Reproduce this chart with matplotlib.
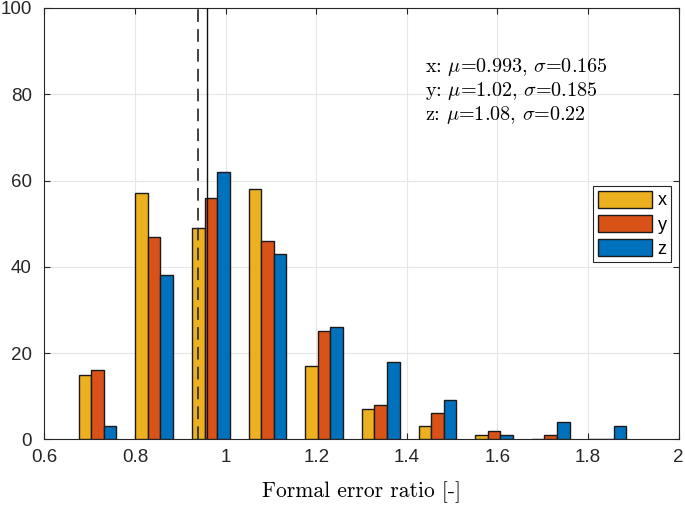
import numpy as np
import matplotlib
matplotlib.use('Agg')
import matplotlib.pyplot as plt

# histogram of formal error ratio, three components
binCenters = [0.7175, 0.8425, 0.9675, 1.0925, 1.2175, 1.3425, 1.4675, 1.5925, 1.7175, 1.8425]
countsX = [15, 57, 49, 58, 17, 7, 3, 1, 0, 0]
countsY = [16, 47, 56, 46, 25, 8, 6, 2, 1, 0]
countsZ = [3, 38, 62, 43, 26, 18, 9, 1, 4, 3]
labels = ['x', 'y', 'z']
statsText = ['x: $\\mu$=0.993, $\\sigma$=0.165',
             'y: $\\mu$=1.02, $\\sigma$=0.185',
             'z: $\\mu$=1.08, $\\sigma$=0.22']
dashedLine = 0.94
solidLine = 0.96

colors = ['#EDB120', '#D95319', '#0072BD']
axCol = '#262626'

plt.rcParams['font.family'] = ['Liberation Sans', 'DejaVu Sans']
plt.rcParams['mathtext.fontset'] = 'cm'

fig = plt.figure(figsize=(6.85, 5.08), dpi=100)
ax = fig.add_axes([0.0647, 0.1352, 0.9261, 0.8491])

spacing = 0.125
barW = spacing * (2.0 / 3.0) / 3.0
for i, (cnt, lab) in enumerate(zip([countsX, countsY, countsZ], labels)):
    xs = np.array(binCenters) + (i - 1) * barW
    ax.bar(xs, cnt, width=barW, color=colors[i], edgecolor='#1a1a1a',
           linewidth=1.0, label=lab, zorder=3)

ax.axvline(dashedLine, color='#333333', linestyle=(0, (7, 4)), linewidth=1.3, zorder=4)
ax.axvline(solidLine, color='#111111', linewidth=1.0, zorder=4)

ax.set_xlim(0.6, 2)
ax.set_ylim(0, 100)
ax.set_xticks([0.6, 0.8, 1, 1.2, 1.4, 1.6, 1.8, 2])
ax.set_xticklabels(['0.6', '0.8', '1', '1.2', '1.4', '1.6', '1.8', '2'])
ax.set_yticks([0, 20, 40, 60, 80, 100])
ax.grid(True, color='#e6e6e6', linewidth=0.8, zorder=0)
ax.set_axisbelow(True)
ax.tick_params(direction='in', top=True, right=True, length=4, width=0.8,
               colors=axCol, labelsize=13.5)
ax.tick_params(axis='x', pad=7)
ax.tick_params(axis='y', pad=9)
for s in ax.spines.values():
    s.set_color(axCol)
    s.set_linewidth(0.8)

ax.set_xlabel('Formal error ratio [-]', fontfamily='cmr10', fontsize=15.5,
              color='black', labelpad=11)

for k, t in enumerate(statsText):
    ax.text(1.44, 86.4 - 5.6 * k, t, fontfamily='cmr10', fontsize=14.5,
            va='center', ha='left', color='black')

leg = ax.legend(loc='upper right', bbox_to_anchor=(0.988, 0.587), fancybox=False,
                edgecolor=axCol, framealpha=1, fontsize=13, handlelength=3.0,
                handleheight=1.1, handletextpad=0.3, labelspacing=0.3,
                borderpad=0.25, borderaxespad=0)
leg.get_frame().set_linewidth(0.8)

plt.savefig('out.png', dpi=100)
